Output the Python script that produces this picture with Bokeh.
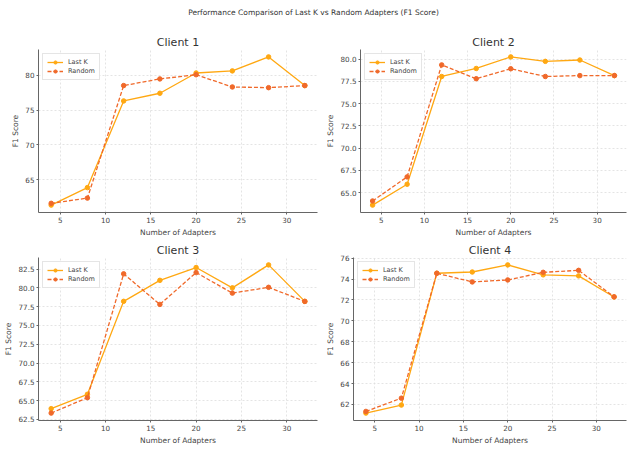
from bokeh.plotting import figure
from bokeh.layouts import column, row
from bokeh.models import Div, FixedTicker, PrintfTickFormatter, Range1d
from bokeh.embed import file_html
from bokeh.resources import INLINE

adapters = [4, 8, 12, 16, 20, 24, 28, 32]

c1_last_k = [61.4, 63.9, 76.3, 77.4, 80.3, 80.6, 82.6, 78.5]
c1_random = [61.65, 62.4, 78.5, 79.45, 80.05, 78.3, 78.2, 78.5]

c2_last_k = [63.6, 65.94, 78.05, 78.95, 80.25, 79.75, 79.9, 78.15]
c2_random = [64.06, 66.77, 79.35, 77.8, 78.92, 78.05, 78.15, 78.15]

c3_last_k = [63.94, 65.85, 78.21, 81.0, 82.7, 80.0, 83.05, 78.2]
c3_random = [63.35, 65.4, 81.86, 77.8, 82.03, 79.3, 80.07, 78.2]

c4_last_k = [61.17, 61.94, 74.56, 74.68, 75.36, 74.41, 74.31, 72.29]
c4_random = [61.33, 62.6, 74.56, 73.73, 73.92, 74.65, 74.84, 72.3]

titles = ["Client 1", "Client 2", "Client 3", "Client 4"]
x_ticks = [5, 10, 15, 20, 25, 30]
y_ticks = [
    [65, 70, 75, 80],
    [65.0, 67.5, 70.0, 72.5, 75.0, 77.5, 80.0],
    [62.5, 65.0, 67.5, 70.0, 72.5, 75.0, 77.5, 80.0, 82.5],
    [62, 64, 66, 68, 70, 72, 74, 76],
]
y_formats = ["%d", "%.1f", "%.1f", "%d"]

FONT = "DejaVu Sans"
LASTK_COLOR = "#FFA812"
RANDOM_COLOR = "#F0692A"


def make_panel(title, lastk, rand, yt, yfmt, width, height, bl, br, bt, bb):
    p = figure(width=width, height=height, output_backend="svg", toolbar_location=None,
               title=title, min_border_left=bl, min_border_right=br,
               min_border_top=bt, min_border_bottom=bb, margin=0)
    lo = min(min(lastk), min(rand))
    hi = max(max(lastk), max(rand))
    m = (hi - lo) * 0.05
    p.y_range = Range1d(lo - m, hi + m)
    p.x_range = Range1d(4 - 1.4, 32 + 1.4)

    p.line(adapters, lastk, color=LASTK_COLOR, line_width=1.3, legend_label="Last K")
    p.scatter(adapters, lastk, color=LASTK_COLOR, size=4.5, legend_label="Last K")
    p.line(adapters, rand, color=RANDOM_COLOR, line_width=1.3, line_dash="4 2",
           legend_label="Random")
    p.scatter(adapters, rand, color=RANDOM_COLOR, size=4.5, legend_label="Random")

    p.title.align = "center"
    p.title.text_font = FONT
    p.title.text_font_size = "11px"
    p.title.text_font_style = "normal"
    p.title.text_color = "#333333"
    p.title.standoff = 2

    p.xaxis.axis_label = "Number of Adapters"
    p.yaxis.axis_label = "F1 Score"
    p.xaxis.ticker = FixedTicker(ticks=x_ticks)
    p.yaxis.ticker = FixedTicker(ticks=yt)
    p.yaxis.formatter = PrintfTickFormatter(format=yfmt)
    for ax in (p.xaxis[0], p.yaxis[0]):
        ax.axis_label_text_font = FONT
        ax.axis_label_text_font_size = "7.5px"
        ax.axis_label_text_font_style = "normal"
        ax.axis_label_text_color = "#444444"
        ax.axis_label_standoff = 2
        ax.major_label_text_font = FONT
        ax.major_label_text_font_size = "7.2px"
        ax.major_label_text_color = "#444444"
        ax.major_label_standoff = 2
        ax.major_tick_out = 2
        ax.major_tick_in = 0
        ax.minor_tick_out = 0
        ax.minor_tick_in = 0
        ax.axis_line_color = "#666666"
        ax.major_tick_line_color = "#666666"
    p.outline_line_color = None
    p.grid.grid_line_color = "#dddddd"
    p.grid.grid_line_dash = "2 2"
    p.grid.grid_line_width = 0.8

    p.legend.location = "top_left"
    p.legend.label_text_font = FONT
    p.legend.label_text_font_size = "6.5px"
    p.legend.label_text_color = "#444444"
    p.legend.glyph_width = 16
    p.legend.glyph_height = 8
    p.legend.label_height = 8
    p.legend.spacing = 1
    p.legend.padding = 4
    p.legend.margin = 4
    p.legend.border_line_color = "#cccccc"
    p.legend.background_fill_alpha = 0.9
    return p


data = [(c1_last_k, c1_random), (c2_last_k, c2_random),
        (c3_last_k, c3_random), (c4_last_k, c4_random)]

p1 = make_panel(titles[0], *data[0], y_ticks[0], y_formats[0], 323, 215, 38, 6, 25, 21)
p2 = make_panel(titles[1], *data[1], y_ticks[1], y_formats[1], 304, 215, 30, 1, 25, 21)
p3 = make_panel(titles[2], *data[2], y_ticks[2], y_formats[2], 323, 208, 38, 6, 18, 21)
p4 = make_panel(titles[3], *data[3], y_ticks[3], y_formats[3], 304, 208, 30, 1, 18, 21)

header = Div(text="Performance Comparison of Last K vs Random Adapters (F1 Score)",
             width=627, height=24, margin=0,
             styles={"font-family": FONT, "font-size": "7.5px", "color": "#333333",
                     "text-align": "center", "width": "627px", "line-height": "26px"})

layout = column(header, row(p1, p2, spacing=0), row(p3, p4, spacing=0), spacing=0)

open("out.html", "w").write(file_html(layout, INLINE))
